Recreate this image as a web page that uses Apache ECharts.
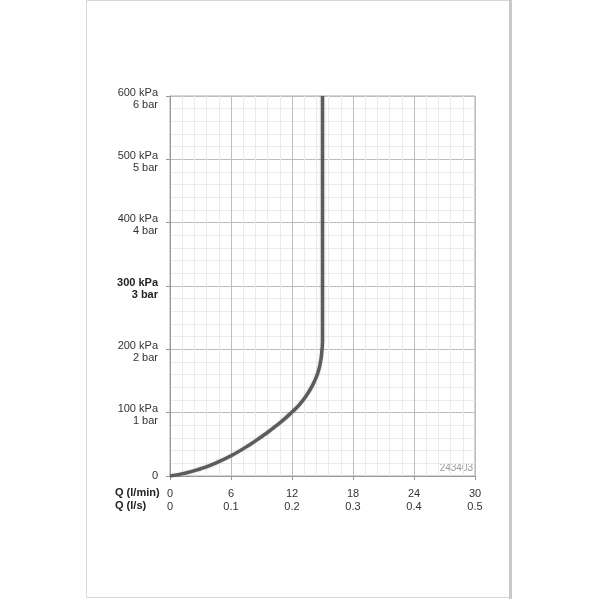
<!DOCTYPE html>
<html>
<head>
<meta charset="utf-8">
<script src="https://cdn.jsdelivr.net/npm/echarts@6/dist/echarts.min.js"></script>
<style>
  html, body { margin: 0; padding: 0; background: #fff; }
  #chart { width: 599px; height: 599px; }
</style>
</head>
<body>
<div id="chart"></div>
<script>
// flow Q in l/min, pressure in kPa
var flowLmin = [0, 1.5, 3, 4.5, 6, 7.5, 9, 10.5, 12, 13, 13.8, 14.3, 14.6, 14.8, 14.93, 15, 15, 15];
var pressureKpa = [0, 4.5, 11.5, 20.5, 32, 46, 62, 80, 101, 118, 137, 153, 166, 180, 196, 215, 300, 600];

// tick labels
var xTicksLmin = ['0', '6', '12', '18', '24', '30'];
var xTicksLs = ['0', '0.1', '0.2', '0.3', '0.4', '0.5'];
var yTicksKpa = ['0', '100 kPa', '200 kPa', '300 kPa', '400 kPa', '500 kPa', '600 kPa'];
var yTicksBar = ['', '1 bar', '2 bar', '3 bar', '4 bar', '5 bar', '6 bar'];

var chart = echarts.init(document.getElementById('chart'));

var points = flowLmin.map(function (q, i) { return [q, pressureKpa[i]]; });

var option = {
  backgroundColor: '#fff',
  animation: false,
  textStyle: { fontFamily: 'Liberation Sans, Arial, sans-serif' },
  grid: { left: 170, right: 124, top: 96, bottom: 123, containLabel: false,
    show: true, borderColor: '#aaa', borderWidth: 1 },
  graphic: [
    // the "page" sheet
    { type: 'rect', z: -10, shape: { x: 86.5, y: 0.5, width: 424, height: 597 },
      style: { fill: '#fff', stroke: '#d8d8d8', lineWidth: 1 } },
    { type: 'rect', z: -9, shape: { x: 509, y: 0, width: 3, height: 599 },
      style: { fill: '#c9c9c9' } },
    { type: 'text', left: 115, top: 487, style: { text: 'Q (l/min)', font: 'bold 11px Liberation Sans, Arial, sans-serif', fill: '#222' } },
    { type: 'text', left: 115, top: 500, style: { text: 'Q (l/s)', font: 'bold 11px Liberation Sans, Arial, sans-serif', fill: '#222' } },
    { type: 'text', right: 126, top: 463, style: { text: '243403', font: '10px Liberation Sans, Arial, sans-serif', fill: '#9a9a9a' } }
  ],
  xAxis: {
    type: 'value', min: 0, max: 30, interval: 6,
    axisLine: { show: true, lineStyle: { color: '#999', width: 1 } },
    axisTick: { show: true, length: 4, lineStyle: { color: '#999' } },
    axisLabel: {
      margin: 11, color: '#333', fontSize: 11, lineHeight: 13,
      formatter: function (v) {
        var i = Math.round(v / 6);
        return xTicksLmin[i] + '\n' + xTicksLs[i];
      }
    },
    splitLine: { show: true, lineStyle: { color: '#bdbdbd', width: 1 } },
    minorTick: { show: false, splitNumber: 5 },
    minorSplitLine: { show: true, lineStyle: { color: '#ebebeb', width: 1 } }
  },
  yAxis: {
    type: 'value', min: 0, max: 600, interval: 100,
    axisLine: { show: true, lineStyle: { color: '#999', width: 1 } },
    axisTick: { show: true, length: 4, lineStyle: { color: '#999' } },
    axisLabel: {
      margin: 12, color: '#333', fontSize: 11, lineHeight: 12, align: 'right',
      padding: [5, 0, 0, 0],
      formatter: function (v) {
        var i = Math.round(v / 100);
        if (i === 0) return '{z|' + yTicksKpa[0] + '}';
        if (i === 3) return '{b|' + yTicksKpa[i] + '}\n{b|' + yTicksBar[i] + '}';
        return yTicksKpa[i] + '\n' + yTicksBar[i];
      },
      rich: {
        b: { fontWeight: 'bold', fontSize: 11, lineHeight: 12, color: '#222', align: 'right' },
        z: { fontSize: 11, lineHeight: 12, color: '#333', padding: [0, 0, 5, 0] }
      }
    },
    splitLine: { show: true, lineStyle: { color: '#bdbdbd', width: 1 } },
    minorTick: { show: false, splitNumber: 5 },
    minorSplitLine: { show: true, lineStyle: { color: '#ebebeb', width: 1 } }
  },
  series: [{
    type: 'line',
    data: points,
    smooth: 0.6,
    showSymbol: false,
    lineStyle: { color: '#5c5c5c', width: 3.5, shadowBlur: 3, shadowColor: 'rgba(0,0,0,0.15)' },
    z: 5
  }]
};

chart.setOption(option);
window.addEventListener('resize', function () { chart.resize(); });
</script>
</body>
</html>
